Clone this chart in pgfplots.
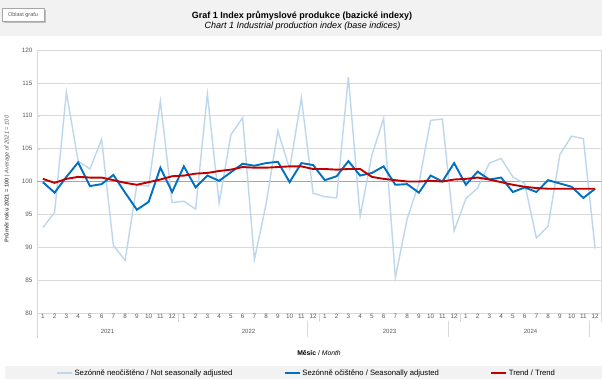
\documentclass[border=0pt]{standalone}
\usepackage{pgfplots}
\pgfplotsset{compat=1.18}
\usepackage{pgfplotstable}
\usepackage{fontspec}
\setmainfont{Liberation Sans}
\definecolor{nsa}{HTML}{BDD7EE}
\definecolor{sa}{HTML}{0070C0}
\definecolor{tr}{HTML}{C00000}
\definecolor{gridc}{HTML}{D9D9D9}
\definecolor{refc}{HTML}{A6A6A6}
\definecolor{band}{HTML}{F2F2F2}
\definecolor{txt}{HTML}{595959}

\pgfplotstableread{
m nsa sa tr
1 93.0 99.9 100.4
2 95.3 98.3 99.8
3 113.6 100.7 100.4
4 103.1 102.9 100.7
5 101.9 99.3 100.6
6 106.4 99.6 100.6
7 90.3 101.0 100.2
8 88.0 98.3 99.8
9 99.5 95.7 99.5
10 99.3 96.9 99.9
11 112.2 102.1 100.3
12 96.8 98.4 100.8
13 97.0 102.3 100.9
14 95.8 99.1 101.2
15 113.3 100.9 101.3
16 96.7 100.1 101.6
17 107.1 101.4 101.8
18 109.7 102.7 102.2
19 88.1 102.4 102.1
20 96.6 102.8 102.1
21 107.7 103.0 102.2
22 101.9 99.9 102.3
23 112.7 102.8 102.3
24 98.2 102.5 101.9
25 97.7 100.2 101.9
26 97.5 100.8 101.8
27 115.9 103.1 101.9
28 94.7 100.9 101.9
29 104.0 101.3 100.7
30 109.6 102.3 100.4
31 85.4 99.5 100.2
32 94.3 99.6 100.0
33 99.7 98.3 100.0
34 109.3 100.9 100.1
35 109.5 100.0 100.0
36 92.5 102.8 100.3
37 97.4 99.5 100.4
38 99.0 101.5 100.6
39 102.8 100.3 100.3
40 103.5 100.6 99.9
41 100.7 98.4 99.5
42 99.7 99.1 99.2
43 91.4 98.4 99.0
44 93.2 100.2 98.9
45 104.1 99.7 98.9
46 106.9 99.2 98.9
47 106.5 97.5 98.9
48 89.8 98.9 98.9
}\data

\begin{document}
\begin{tikzpicture}
\fill[white] (-37pt,-66pt) rectangle (565pt,313pt);
\fill[band] (-37pt,277pt) rectangle (565pt,313pt);
\fill[band] (-32pt,-66pt) rectangle (565pt,-53pt);
% title
\node[font=\fontsize{9}{10}\selectfont\bfseries] at (265pt,297.5pt) {Graf 1 Index průmyslové produkce (bazické indexy)};
\node[font=\fontsize{9}{10}\selectfont\itshape] at (265.5pt,287pt) {Chart 1 Industrial production index (base indices)};
% tooltip
\fill[gray!50] (-33pt,290pt) rectangle (9pt,303pt);
\node[draw=gray!70, fill=white, inner sep=1.5pt, minimum width=42pt, minimum height=13pt, font=\fontsize{5.5}{6}\selectfont, text=txt] at (-14pt,298pt) {Oblast grafu};
% category separators (axis box is at (0,0)-(564pt,263pt); month width 11.75pt)
\begin{scope}[gridc, line width=0.6pt]
\draw (0pt,0pt) -- (0pt,-25pt);
\draw (141pt,0pt) -- (141pt,-9pt);
\draw (282pt,0pt) -- (282pt,-9pt);
\draw (423pt,0pt) -- (423pt,-9pt);
\draw (564pt,0pt) -- (564pt,-9pt);
\draw (270.25pt,-8pt) -- (270.25pt,-24pt);
\draw (411.25pt,-8pt) -- (411.25pt,-24pt);
\draw (552.25pt,-8pt) -- (552.25pt,-24pt);
\end{scope}
\begin{scope}[font=\fontsize{6}{7}\selectfont, text=txt]
\node at (70.5pt,-18pt) {2021};
\node at (211.5pt,-18pt) {2022};
\node at (352.5pt,-18pt) {2023};
\node at (493.5pt,-18pt) {2024};
\end{scope}
\node[font=\fontsize{6.8}{7}\selectfont] at (282pt,-40pt) {\textbf{Měsíc} / \textit{Month}};
\node[font=\fontsize{5.7}{6}\selectfont, text=txt, rotate=90] at (-30pt,134pt) {\textbf{Průměr roku 2021 = 100} | \textit{Average of 2021 = 100}};
\begin{axis}[
  scale only axis, width=564pt, height=263pt,
  at={(0pt,0pt)}, anchor=south west,
  xmin=0.5, xmax=48.5, ymin=80, ymax=120,
  ytick={80,85,...,120},
  xtick={1,...,48},
  xticklabels={1,2,3,4,5,6,7,8,9,10,11,12,1,2,3,4,5,6,7,8,9,10,11,12,1,2,3,4,5,6,7,8,9,10,11,12,1,2,3,4,5,6,7,8,9,10,11,12},
  /pgf/number format/assume math mode=true,
  ticklabel style={font=\fontsize{6.3}{7}\selectfont, text=txt},
  xticklabel style={inner sep=1.2pt},
  yticklabel style={inner sep=2pt, xshift=-2.5pt},
  tick pos=left,
  major tick length=2.5pt,
  xtick style={draw=none},
  ytick style={draw=gridc},
  ymajorgrids,
  major grid style={draw=gridc, line width=0.6pt},
  axis line style={draw=gridc, line width=0.6pt},
  extra y ticks={100}, extra y tick labels={},
  extra y tick style={major grid style={draw=refc, line width=0.7pt}, major tick length=0pt},
  legend columns=3,
  legend image code/.code={\draw[#1] (0pt,0pt) -- (15pt,0pt);},
  legend style={at={(0.478,-0.228)}, anchor=center, draw=none, fill=none,
    font=\fontsize{7.7}{8}\selectfont, text=black, inner sep=0pt,
    /tikz/every even column/.append style={column sep=49pt}},
]
\addplot[nsa, line width=1.4pt] table[x=m, y=nsa] {\data};
\addlegendentry{Sezónně neočištěno / Not seasonally adjusted}
\addplot[sa, line width=1.9pt] table[x=m, y=sa] {\data};
\addlegendentry{Sezónně očištěno / Seasonally adjusted}
\addplot[tr, line width=1.9pt] table[x=m, y=tr] {\data};
\addlegendentry{Trend / Trend}
\end{axis}
\end{tikzpicture}
\end{document}
